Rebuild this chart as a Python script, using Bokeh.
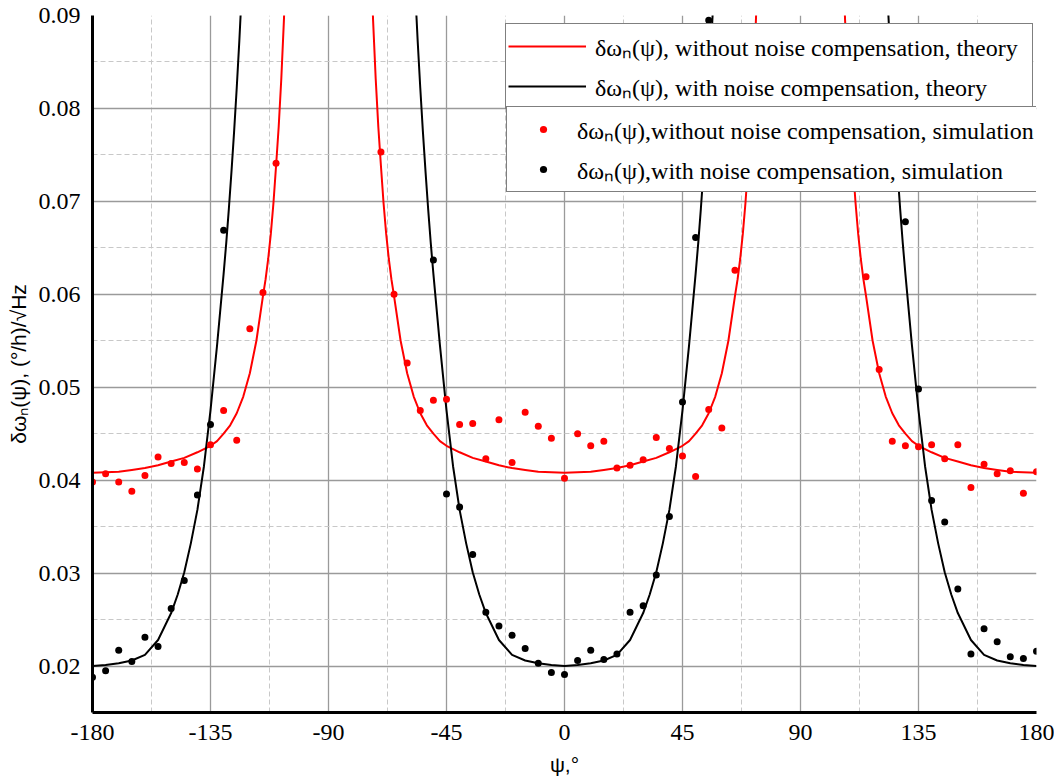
import math
from bokeh.plotting import figure
from bokeh.models import Range1d, FixedTicker, Legend, LegendItem, PrintfTickFormatter
from bokeh.embed import file_html
from bokeh.resources import INLINE

nan = float("nan")

# ---------------- data ----------------
psi_sim = list(range(-180, 181, 5))  # simulation angles, deg

# simulated points, without noise compensation (red); NaN = outside the plotted range / hidden
red_sim = [
    0.0398, 0.0407, 0.0398, 0.0388, 0.0405, 0.0425, 0.0418, 0.0419, 0.0412, 0.0438,   # -180..-135
    0.0475, 0.0443, 0.0563, 0.0602, 0.0741,                                           # -130..-110
    nan, nan, nan, nan, nan, nan, nan,                                                # -105..-75
    0.0753, 0.0600, 0.0526, 0.0475, 0.0486, 0.0487, 0.0460, 0.0461, 0.0423, 0.0465,   # -70..-25
    0.0419, 0.0473, 0.0458, 0.0445, 0.0402, 0.0450, 0.0437, 0.0442, 0.0413, 0.0416,   # -20..25
    0.0422, 0.0446, 0.0434, 0.0426, 0.0404, 0.0476, 0.0456, 0.0626,                   # 30..65
    nan, nan, nan, nan, nan, nan, nan, nan, nan,                                      # 70..110
    0.0619, 0.0519, 0.0442, 0.0437, 0.0436, 0.0438, 0.0423, 0.0438, 0.0392, 0.0417,   # 115..160
    0.0407, 0.0410, 0.0386, 0.0409,                                                   # 165..180
]

# simulated points, with noise compensation (black)
black_sim = [
    0.0188, 0.0195, 0.0217, 0.0205, 0.0231, 0.0221, 0.0262, 0.0292, 0.0384, 0.0460,   # -180..-135
    0.0669,                                                                           # -130
    nan, nan, nan, nan, nan, nan, nan, nan, nan, nan, nan, nan, nan, nan, nan,        # -125..-55
    0.0637, 0.0385, 0.0371, 0.0320, 0.0258, 0.0243, 0.0233, 0.0219, 0.0203, 0.0193,   # -50..-5
    0.0191, 0.0206, 0.0217, 0.0207, 0.0213, 0.0258, 0.0265, 0.0298, 0.0361, 0.0484,   # 0..45
    0.0661, 0.0895,                                                                   # 50..55
    nan, nan, nan, nan, nan, nan, nan, nan, nan, nan, nan, nan, nan, nan,             # 60..125
    0.0678, 0.0498, 0.0378, 0.0355, 0.0283, 0.0213, 0.0240, 0.0226, 0.0210, 0.0208,   # 130..175
    0.0216,                                                                           # 180
]

# theory curves, read as distance from the nearest minimum (0 deg / +-180 deg)
red_theory_psi = [0, 10, 15, 20, 25, 30, 35, 40, 45, 47.5, 50, 52.5, 55, 57.5, 60, 62.5,
                  65, 66, 67, 68, 69, 70, 71, 72, 73, 74]
red_theory_val = [0.0408, 0.0409, 0.0411, 0.0413, 0.0416, 0.0420, 0.0424, 0.0430, 0.0437,
                  0.0442, 0.0450, 0.0459, 0.0472, 0.0490, 0.0515, 0.0550,
                  0.0598, 0.0616, 0.0638, 0.0665, 0.0698, 0.0738, 0.0780, 0.0832, 0.0895, 0.0975]

black_theory_psi = [0, 5, 10, 15, 20, 25, 30, 32.5, 35, 37.5, 40, 42.5, 45, 47.5, 50,
                    51, 52, 53, 54, 55, 56, 57, 58]
black_theory_val = [0.0200, 0.0201, 0.0203, 0.0206, 0.0212, 0.0228, 0.0257, 0.0277, 0.0301,
                    0.0332, 0.0368, 0.0415, 0.0475, 0.0545, 0.0622,
                    0.0655, 0.0692, 0.0732, 0.0775, 0.0822, 0.0873, 0.0930, 0.0995]

x_ticks = [-180, -135, -90, -45, 0, 45, 90, 135, 180]
x_minor = [-157.5, -112.5, -67.5, -22.5, 22.5, 67.5, 112.5, 157.5]
y_ticks = [0.02, 0.03, 0.04, 0.05, 0.06, 0.07, 0.08, 0.09]
y_minor = [0.025, 0.035, 0.045, 0.055, 0.065, 0.075, 0.085]

labels = [
    "δωₙ(ψ), without noise compensation, theory",
    "δωₙ(ψ), with noise compensation, theory",
    "δωₙ(ψ),without noise compensation, simulation",
    "δωₙ(ψ),with noise compensation, simulation",
]


def periodic_curve(half_psi, half_val):
    """Place the read half-branch around each minimum (-180, 0, 180) using the curve's symmetry."""
    hp, hv = list(half_psi), list(half_val)
    xs = [-180 + t for t in hp] + [nan]
    ys = hv + [nan]
    xs += [-t for t in reversed(hp)] + hp[1:] + [nan]
    ys += list(reversed(hv)) + hv[1:] + [nan]
    xs += [180 - t for t in reversed(hp)]
    ys += list(reversed(hv))
    return xs, ys


rx, ry = periodic_curve(red_theory_psi, red_theory_val)
bx, by = periodic_curve(black_theory_psi, black_theory_val)

# ---------------- figure ----------------
p = figure(width=1054, height=778, x_range=Range1d(-180, 180), y_range=Range1d(0.015, 0.09),
           output_backend="svg", toolbar_location=None,
           min_border_left=92, min_border_right=18, min_border_top=15, min_border_bottom=66)
p.outline_line_color = None
p.background_fill_color = "white"

r_red_line = p.line(rx, ry, line_color="#ff0000", line_width=2)
r_blk_line = p.line(bx, by, line_color="#000000", line_width=2)
r_red_pts = p.scatter(psi_sim, red_sim, size=7, fill_color="#ff0000", line_color=None)
r_blk_pts = p.scatter(psi_sim, black_sim, size=7, fill_color="#000000", line_color=None)

# axes
for ax in (p.xaxis[0], p.yaxis[0]):
    ax.axis_line_color = "black"
    ax.axis_line_width = 3
    ax.major_tick_line_color = None
    ax.minor_tick_line_color = None
    ax.major_label_text_font = "Liberation Serif"
    ax.major_label_text_font_size = "24px"
    ax.major_label_text_color = "black"
    ax.axis_label_text_font = "Liberation Sans"
    ax.axis_label_text_font_size = "21px"
    ax.axis_label_text_font_style = "normal"
    ax.axis_label_text_color = "black"

p.xaxis.ticker = FixedTicker(ticks=x_ticks)
p.xaxis.formatter = PrintfTickFormatter(format="%d")
p.xaxis.major_label_standoff = 6
p.xaxis.axis_label = "ψ,°"
p.xaxis.axis_label_standoff = 10

p.yaxis.ticker = FixedTicker(ticks=y_ticks)
p.yaxis.formatter = PrintfTickFormatter(format="%.2f")
p.yaxis.major_label_standoff = 6
p.yaxis.axis_label = "δωₙ(ψ), (°/h)/√Hz"
p.yaxis.axis_label_standoff = 6

# grid
p.xgrid.ticker = FixedTicker(ticks=x_ticks[1:-1], minor_ticks=x_minor)
p.ygrid.ticker = FixedTicker(ticks=y_ticks[:-1], minor_ticks=y_minor)
for g in (p.xgrid[0], p.ygrid[0]):
    g.grid_line_color = "#9a9a9a"
    g.grid_line_width = 1.3
    g.minor_grid_line_color = "#c8c8c8"
    g.minor_grid_line_width = 1
    g.minor_grid_line_dash = "5 3"

# legends
common = dict(border_line_color="black", border_line_width=1.5, background_fill_color="white",
              background_fill_alpha=1.0, padding=2, spacing=0, margin=0,
              label_height=40, label_text_font="Liberation Serif",
              label_text_font_size="24px", label_text_color="black")
leg1 = Legend(items=[LegendItem(label=labels[0], renderers=[r_red_line]),
                     LegendItem(label=labels[1], renderers=[r_blk_line])],
              location=(413, 603), glyph_width=78, glyph_height=40, label_standoff=9,
              label_width=435, **common)
leg2 = Legend(items=[LegendItem(label=labels[2], renderers=[r_red_pts]),
                     LegendItem(label=labels[3], renderers=[r_blk_pts])],
              location=(414, 520), glyph_width=68, glyph_height=18, label_standoff=0,
              label_width=440, **common)
p.add_layout(leg1)
p.add_layout(leg2)

open("out.html", "w").write(file_html(p, INLINE))
